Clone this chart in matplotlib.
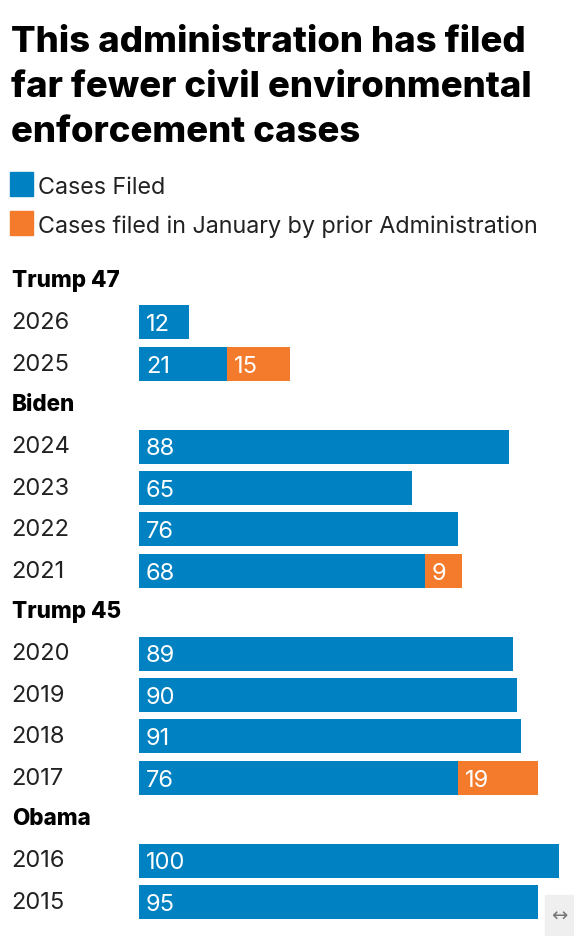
import matplotlib.pyplot as plt
from matplotlib.patches import Rectangle
from matplotlib.transforms import blended_transform_factory

# data
administrations = ["Trump 47", "Trump 47", "Biden", "Biden", "Biden", "Biden",
                   "Trump 45", "Trump 45", "Trump 45", "Trump 45", "Obama", "Obama"]
years = [2026, 2025, 2024, 2023, 2022, 2021, 2020, 2019, 2018, 2017, 2016, 2015]
cases_filed = [12, 21, 88, 65, 76, 68, 89, 90, 91, 76, 100, 95]
prior_admin = [0, 15, 0, 0, 0, 9, 0, 0, 0, 19, 0, 0]

title_lines = ["This administration has filed", "far fewer civil environmental",
               "enforcement cases"]
legend_labels = ["Cases Filed", "Cases filed in January by prior Administration"]

BLUE = "#0081c1"
ORANGE = "#f47b2b"
W, H = 574, 936
FONT = "Inter"

# row layout: a header row whenever the administration changes
rows = []
pos = 0
last = None
for i, adm in enumerate(administrations):
    if adm != last:
        rows.append(("header", adm, pos))
        pos += 1
        last = adm
    rows.append(("bar", i, pos))
    pos += 1
nrows = pos

fig = plt.figure(figsize=(W / 100, H / 100), dpi=100)

row_h = 41.4
top_px = 281 - row_h / 2
bot_px = top_px + nrows * row_h
ax = fig.add_axes([139 / W, 1 - bot_px / H, 420 / W, (bot_px - top_px) / H])
ax.set_xlim(0, 100)
ax.set_ylim(nrows - 0.5, -0.5)
ax.axis("off")

trans = blended_transform_factory(fig.transFigure, ax.transData)

for kind, val, y in rows:
    if kind == "header":
        ax.text(12 / W, y, val, transform=trans, fontsize=16.2, fontweight=800,
                family=FONT, va="center", ha="left", color="black")
        continue
    i = val
    ax.barh(y, cases_filed[i], height=0.82, color=BLUE, edgecolor="none")
    ax.text(11 / W, y + 0.02, str(years[i]), transform=trans, fontsize=17,
            family=FONT, va="center", ha="left", color="#222222")
    ax.annotate(str(cases_filed[i]), (0, y), xytext=(5, -2), textcoords="offset points",
                fontsize=17, family=FONT, color="white",
                va="center", ha="left")
    if prior_admin[i]:
        ax.barh(y, prior_admin[i], left=cases_filed[i], height=0.82,
                color=ORANGE, edgecolor="none")
        ax.annotate(str(prior_admin[i]), (cases_filed[i], y), xytext=(5, -2),
                    textcoords="offset points", fontsize=17, family=FONT,
                    color="white", va="center", ha="left")

# title, one line at a time so the baselines sit where they should
for k, line in enumerate(title_lines):
    fig.text(11 / W, 1 - (52 + 45 * k) / H, line, fontsize=26.3, fontweight="heavy",
             family=FONT, va="baseline", ha="left", color="black")

# legend
for k, (lab, col) in enumerate(zip(legend_labels, [BLUE, ORANGE])):
    y0 = 172 + k * 39
    fig.patches.append(Rectangle((10 / W, 1 - (y0 + 24) / H), 23 / W, 24 / H,
                                 transform=fig.transFigure, color=col))
    fig.text(38 / W, 1 - (y0 + 16) / H, lab, fontsize=16.8, family=FONT,
             va="center", ha="left", color="#222222")

# scroll hint in the corner
fig.patches.append(Rectangle((545 / W, 0), 29 / W, 41 / H, transform=fig.transFigure,
                             color="#efefef"))
fig.text(559 / W, 20 / H, "\u2194", fontsize=14, color="#777777", ha="center",
         va="center", family="DejaVu Sans")

fig.savefig("out.png", dpi=100)
